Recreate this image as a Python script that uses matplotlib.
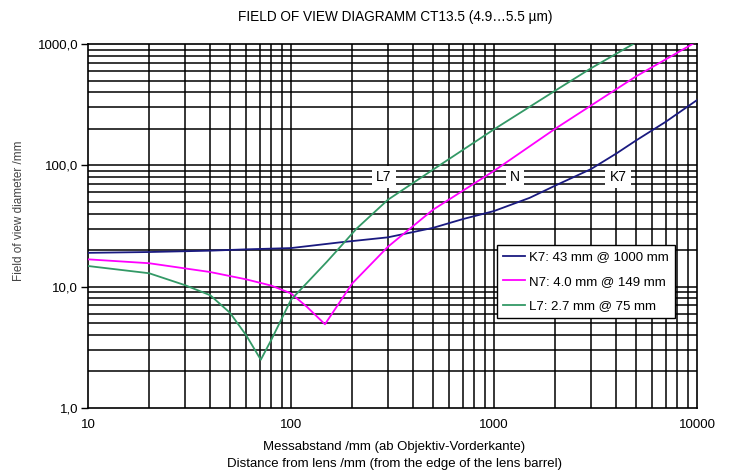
import numpy as np
import matplotlib.pyplot as plt
from matplotlib.ticker import FixedLocator, FixedFormatter, NullFormatter

plt.rcParams['font.family'] = ['Liberation Sans', 'DejaVu Sans']

# values
k7_x = [10, 20, 40, 60, 100, 175, 300, 500, 700, 1000, 1500, 2000, 3000, 4000, 5000, 7000, 10000]
k7_y = [19.0, 19.3, 19.8, 20.3, 20.8, 23.2, 25.5, 30.5, 36, 42, 54, 68, 93, 125, 160, 228, 345]

n7_x = [10, 20, 40, 60, 80, 100, 120, 147, 200, 300, 500, 1000, 2000, 5000, 10000]
n7_y = [16.8, 15.6, 13.2, 11.5, 10.2, 8.8, 6.8, 4.9, 10.6, 21.3, 43, 90, 200, 540, 1050]

l7_x = [10, 20, 30, 40, 50, 60, 71, 80, 100, 150, 175, 210, 300, 500, 1000, 2000, 3000, 4850]
l7_y = [14.8, 12.9, 10.3, 8.5, 6.1, 4.0, 2.5, 3.65, 7.8, 16, 21.3, 30, 52, 92, 198, 412, 630, 1000]

legend_labels = ["K7: 43 mm @ 1000 mm", "N7: 4.0 mm @ 149 mm", "L7: 2.7 mm @ 75 mm"]
curve_tags = ["L7", "N", "K7"]
tag_x = [287, 1268, 4080]
tag_y = 80

x_ticks = [10, 100, 1000, 10000]
x_tick_labels = ["10", "100", "1000", "10000"]
y_ticks = [1, 10, 100, 1000]
y_tick_labels = ["1,0", "10,0", "100,0", "1000,0"]

fig = plt.figure(figsize=(7.36, 4.73), dpi=100)
ax = fig.add_axes([88/736, 1-408/473, 609/736, 364/473])

ax.set_xscale('log')
ax.set_yscale('log')
ax.set_xlim(10, 10000)
ax.set_ylim(1, 1000)

# grid on every major and minor decade step
minors = [m * 10**e for e in range(0, 4) for m in range(2, 10)]
for v in minors + [10, 100, 1000]:
    if 10 < v < 10000:
        ax.axvline(v, color='black', lw=1.1, zorder=1)
    if 1 < v < 1000:
        ax.axhline(v, color='black', lw=1.1, zorder=1)

ax.plot(k7_x, k7_y, color='#1a1a80', lw=1.3, zorder=4, label=legend_labels[0])
ax.plot(n7_x, n7_y, color='#ff00ff', lw=1.3, zorder=4, label=legend_labels[1])
ax.plot(l7_x, l7_y, color='#339966', lw=1.3, zorder=4, label=legend_labels[2])

for t, xx in zip(curve_tags, tag_x):
    ax.text(xx, tag_y, t, ha='center', va='center', fontsize=10, zorder=3,
            bbox=dict(facecolor='white', edgecolor='none', pad=3))

ax.xaxis.set_major_locator(FixedLocator(x_ticks))
ax.xaxis.set_major_formatter(FixedFormatter(x_tick_labels))
ax.xaxis.set_minor_formatter(NullFormatter())
ax.yaxis.set_major_locator(FixedLocator(y_ticks))
ax.yaxis.set_major_formatter(FixedFormatter(y_tick_labels))
ax.yaxis.set_minor_formatter(NullFormatter())
ax.tick_params(axis='x', which='both', length=0, pad=8, labelsize=9.5)
ax.tick_params(axis='y', which='major', length=5, width=1, pad=2, labelsize=9.5)
ax.tick_params(axis='y', which='minor', length=0)
for s in ax.spines.values():
    s.set_linewidth(1.2)
    s.set_color('black')

leg = ax.legend(loc='upper left', bbox_to_anchor=(0.672, 0.447), fontsize=9.5,
                frameon=True, fancybox=False, framealpha=1, edgecolor='black',
                handlelength=1.65, handletextpad=0.3, borderpad=0.45,
                labelspacing=0.93, borderaxespad=0)
leg.get_frame().set_linewidth(1.0)
leg.set_zorder(5)

fig.text(0.537, 0.964, "FIELD OF VIEW DIAGRAMM CT13.5 (4.9…5.5 µm)",
         ha='center', va='center', fontsize=9.8)
fig.text(0.536, 0.055, "Messabstand /mm (ab Objektiv-Vorderkante)",
         ha='center', va='center', fontsize=9.5)
fig.text(0.536, 0.019, "Distance from lens /mm (from the edge of the lens barrel)",
         ha='center', va='center', fontsize=9.5)
fig.text(0.026, 0.554, "Field of view diameter /mm", rotation=90,
         ha='center', va='center', fontsize=8.5, color='#444444')

fig.savefig("out.png", dpi=100)
